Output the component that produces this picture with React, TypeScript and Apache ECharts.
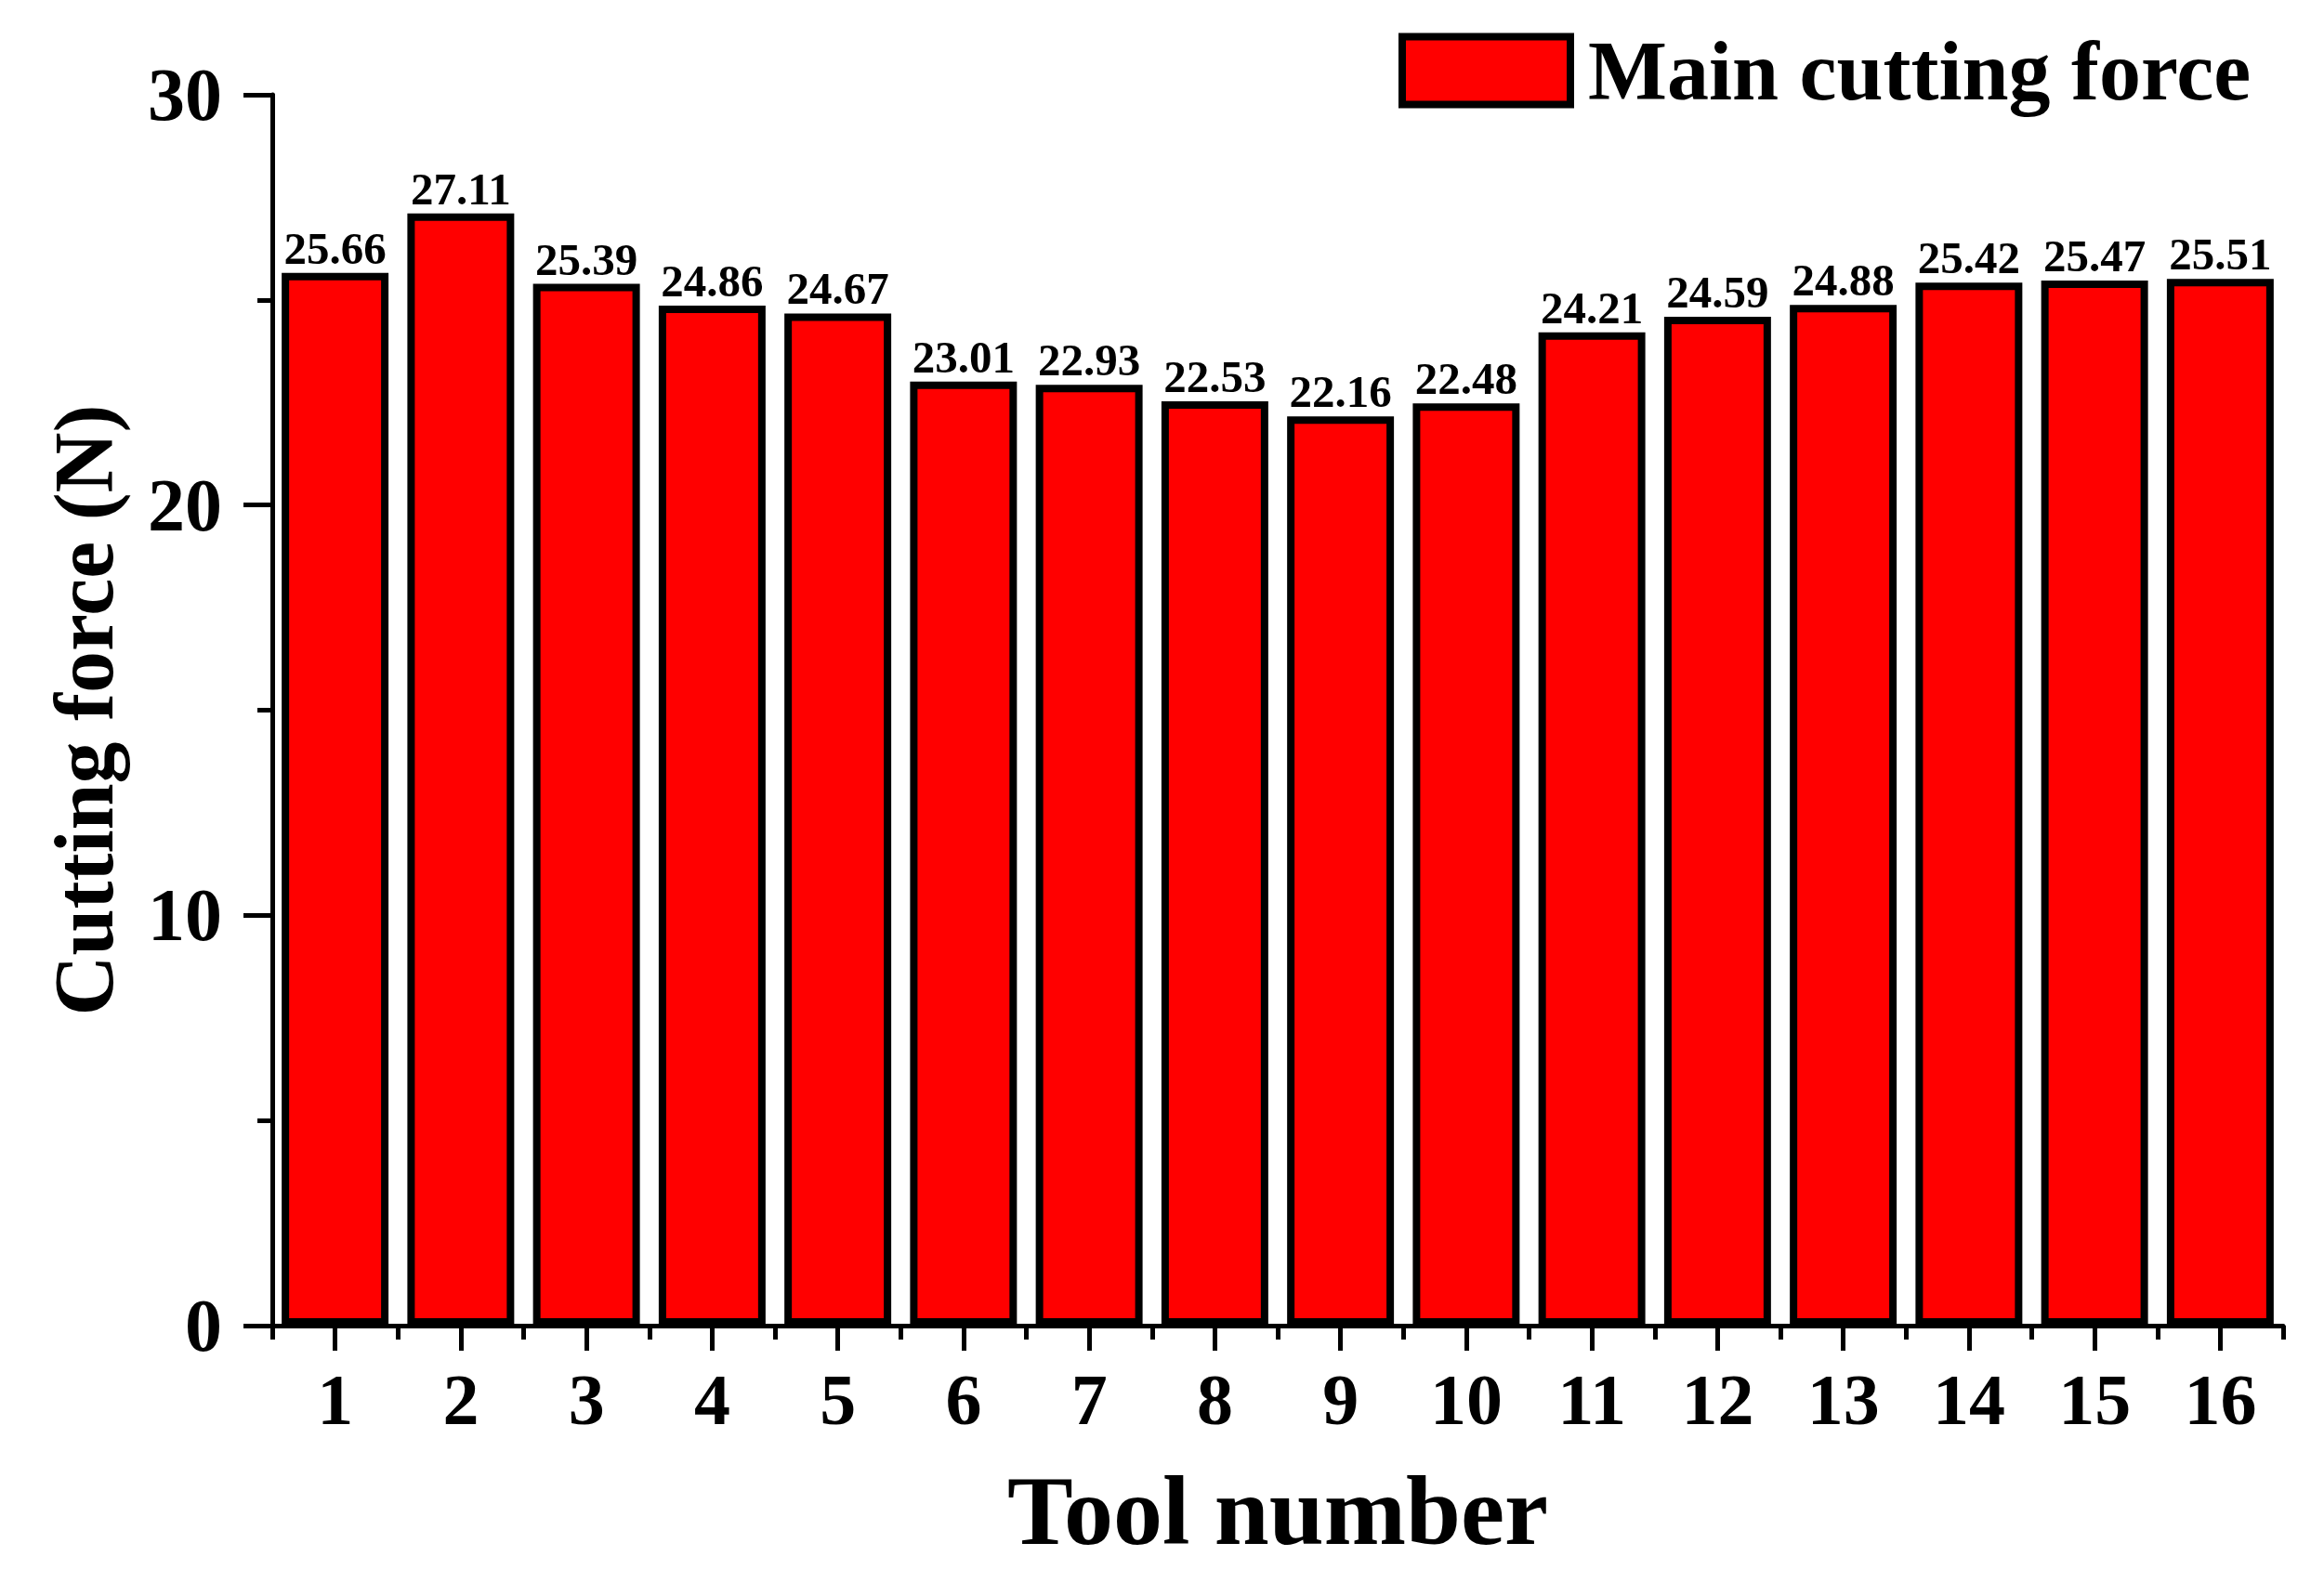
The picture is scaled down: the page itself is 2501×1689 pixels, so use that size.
import React, { useEffect, useRef } from "react";
import * as echarts from "echarts";

const categories = ["1", "2", "3", "4", "5", "6", "7", "8", "9", "10", "11", "12", "13", "14", "15", "16"];
const mainCuttingForce = [25.66, 27.11, 25.39, 24.86, 24.67, 23.01, 22.93, 22.53, 22.16, 22.48, 24.21, 24.59, 24.88, 25.42, 25.47, 25.51];
const seriesName = "Main cutting force";
const xTitle = "Tool number";
const yTitle = "Cutting force (N)";
const yMin = 0;
const yMax = 30;
const yInterval = 10;

const FONT = "'Liberation Serif', 'Times New Roman', serif";

export default function App() {
  const ref = useRef<HTMLDivElement>(null);
  useEffect(() => {
    if (!ref.current) return;
    const chart = echarts.init(ref.current, undefined, { renderer: "svg" });
    const axisLineStyle = { color: "#000", width: 5 };
    chart.setOption({
      animation: false,
      backgroundColor: "#fff",
      grid: { left: 293, right: 44, top: 102, bottom: 262, containLabel: false },
      legend: {
        data: [seriesName],
        left: 1500,
        top: 26,
        itemWidth: 181,
        itemHeight: 73,
        itemStyle: { color: "#ff0000", borderColor: "#000", borderWidth: 8 },
        textStyle: { fontFamily: FONT, fontWeight: "bold", fontSize: 90, color: "#000", padding: [0, 0, 0, 14] },
        icon: "rect",
      },
      xAxis: [
        {
          type: "category",
          data: categories,
          boundaryGap: true,
          axisLine: { show: true, lineStyle: axisLineStyle },
          axisTick: { show: true, alignWithLabel: false, length: 15, lineStyle: { color: "#000", width: 5 } },
          axisLabel: { show: false },
          splitLine: { show: false },
          name: xTitle,
          nameLocation: "middle",
          nameGap: 146,
          nameTextStyle: { fontFamily: FONT, fontWeight: "bold", fontSize: 106, color: "#000" },
        },
        {
          type: "category",
          data: categories,
          position: "bottom",
          boundaryGap: true,
          axisLine: { show: false },
          axisTick: { show: true, alignWithLabel: true, length: 27, lineStyle: { color: "#000", width: 5 } },
          axisLabel: { show: true, margin: 40, fontFamily: FONT, fontWeight: "bold", fontSize: 78, color: "#000" },
          splitLine: { show: false },
        },
      ],
      yAxis: {
        type: "value",
        min: yMin,
        max: yMax,
        interval: yInterval,
        axisLine: { show: true, lineStyle: axisLineStyle },
        axisTick: { show: true, length: 31, lineStyle: { color: "#000", width: 5 } },
        minorTick: { show: true, splitNumber: 2, length: 16, lineStyle: { color: "#000", width: 5 } },
        axisLabel: { margin: 54, fontFamily: FONT, fontWeight: "bold", fontSize: 80, color: "#000" },
        splitLine: { show: false },
        name: yTitle,
        nameLocation: "middle",
        nameGap: 158,
        nameRotate: 90,
        nameTextStyle: { fontFamily: FONT, fontWeight: "bold", fontSize: 90, color: "#000" },
      },
      series: [
        {
          name: seriesName,
          type: "bar",
          xAxisIndex: 0,
          data: mainCuttingForce,
          barCategoryGap: "15%",
          itemStyle: { color: "#ff0000", borderColor: "#000", borderWidth: 8 },
          label: {
            show: true,
            position: "top",
            distance: 2,
            formatter: (p: any) => Number(p.value).toFixed(2),
            fontFamily: FONT,
            fontWeight: "bold",
            fontSize: 49,
            color: "#000",
          },
        },
      ],
    });
    return () => chart.dispose();
  }, []);
  return (
    <div
      ref={ref}
      style={{ position: "fixed", left: 0, top: 0, width: 2501, height: 1689, background: "#fff" }}
    />
  );
}
